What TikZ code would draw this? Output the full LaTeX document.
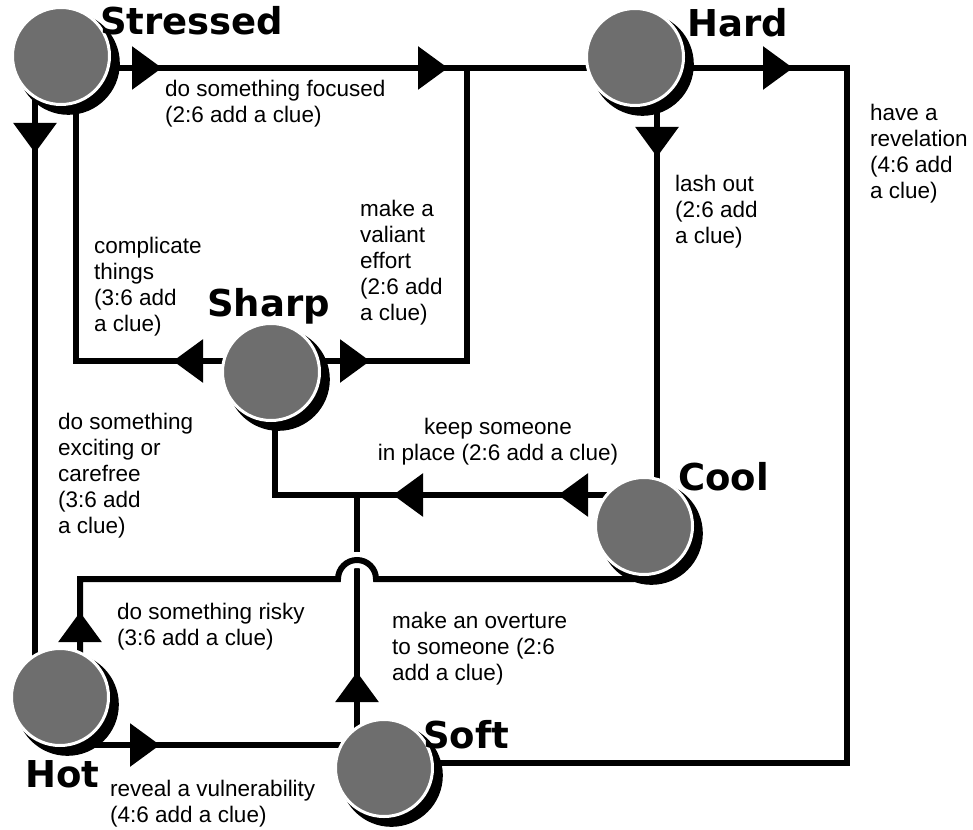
\documentclass[tikz,border=0pt]{standalone}
\usepackage{fontspec}
\setmainfont{Liberation Sans}
\newfontfamily\blockfont{DejaVu Sans}
\usetikzlibrary{arrows.meta,calc,shadows,backgrounds,decorations.markings}
\definecolor{stateGray}{HTML}{6E6E6E}
\tikzset{
state/.style={circle, fill=stateGray, draw=white, line width=3pt, minimum size=97pt, inner sep=0pt, drop shadow={shadow xshift=7pt, shadow yshift=-7pt, shadow scale=1.06, opacity=1, fill=black}},
stateName/.style={anchor=base west, inner sep=0pt, font=\blockfont\bfseries\fontsize{37}{37}\selectfont},
moveText/.style={anchor=north west, inner sep=0pt, align=left, font=\fontsize{22.5}{26}\selectfont},
wire/.style={line width=6pt},
tri/.tip={Triangle[length=30pt,width=42pt]},
tipat/.style={decoration={markings, mark=at position #1 with {\arrow{tri}}}, postaction={decorate}},
tipsat/.style 2 args={decoration={markings, mark=at position #1 with {\arrow{tri}}, mark=at position #2 with {\arrow{tri}}}, postaction={decorate}}
}

\begin{document}
\begin{tikzpicture}[x=1pt, y=-1pt]
\useasboundingbox (0,0) rectangle (973,829);
% the six states
\node[state] (Stressed) at (61,56) {};
\node[state] (Hard) at (635,57) {};
\node[state] (Sharp) at (271,372) {};
\node[state] (Cool) at (644,526) {};
\node[state] (Hot) at (60,697) {};
\node[state] (Soft) at (384,768) {};
% state names
\node[stateName] (StressedName) at (100,35) {Stressed};
\node[stateName] (HardName) at (687,37) {Hard};
\node[stateName] (SharpName) at (207,316) {Sharp};
\node[stateName] (CoolName) at (678,490) {Cool};
\node[stateName] (HotName) at (25,787) {Hot};
\node[stateName] (SoftName) at (423,748) {Soft};
% where lines meet
\coordinate (valiantJoin) at (467,68);
\coordinate (overtureJoin) at (357,495);
\coordinate (revCorner) at (847,763);
% moves
\begin{scope}[on background layer]
\draw[wire, tipsat={101pt}{387pt}] ($(Stressed.center)+(0,12)$) -- ($(Hard.center)+(0,11)$);
\draw[wire, tipat=158pt] ($(Hard.center)+(0,11)$) -| (revCorner) -- ($(Soft.center)+(0,-5)$);
\draw[wire, tipat=100pt] ($(Hard.center)+(22,0)$) -- ($(Cool.center)+(13,0)$);
\draw[wire, tipat=98pt] ($(Sharp.center)+(0,-11)$) -| ($(Stressed.center)+(15,0)$);
\draw[wire, tipat=99pt] ($(Sharp.center)+(0,-11)$) -| (valiantJoin);
\draw[wire, tipat=97pt] ($(Stressed.center)+(-26,0)$) -- ($(Hot.center)+(-25,0)$);
\draw[wire, tipsat={86pt}{251pt}] ($(Cool.center)+(0,-31)$) -| ($(Sharp.center)+(4,0)$);
\draw[wire, tipat=96pt] ($(Soft.center)+(-27,0)$) -- (overtureJoin);
\draw[wire, tipat=85pt, preaction={draw=white, line width=16pt}] ($(Hot.center)+(20,0)$) |- (338,579) arc (180:360:19) -- ($(Cool.center)+(-10,53)$);
\draw[wire, tipat=100pt] ($(Hot.center)+(0,48)$) -- ($(Soft.center)+(0,-23)$);
\end{scope}
% move texts
\node[moveText] (focusedTxt) at (165,80) {do something focused\\(2:6 add a clue)};
\node[moveText] (revelationTxt) at (870,104) {have a\\revelation\\(4:6 add\\a clue)};
\node[moveText] (lashTxt) at (675,175) {lash out\\(2:6 add\\a clue)};
\node[moveText] (valiantTxt) at (360,200) {make a\\valiant\\effort\\(2:6 add\\a clue)};
\node[moveText] (complicateTxt) at (94,237) {complicate\\things\\(3:6 add\\a clue)};
\node[moveText] (excitingTxt) at (58,413) {do something\\exciting or\\carefree\\(3:6 add\\a clue)};
\node[moveText, anchor=north, align=center] (placeTxt) at (498,418) {keep someone\\in place (2:6 add a clue)};
\node[moveText] (riskyTxt) at (117,603) {do something risky\\(3:6 add a clue)};
\node[moveText] (overtureTxt) at (392,612) {make an overture\\to someone (2:6\\add a clue)};
\node[moveText] (vulnTxt) at (110,780) {reveal a vulnerability\\(4:6 add a clue)};
\end{tikzpicture}
\end{document}
